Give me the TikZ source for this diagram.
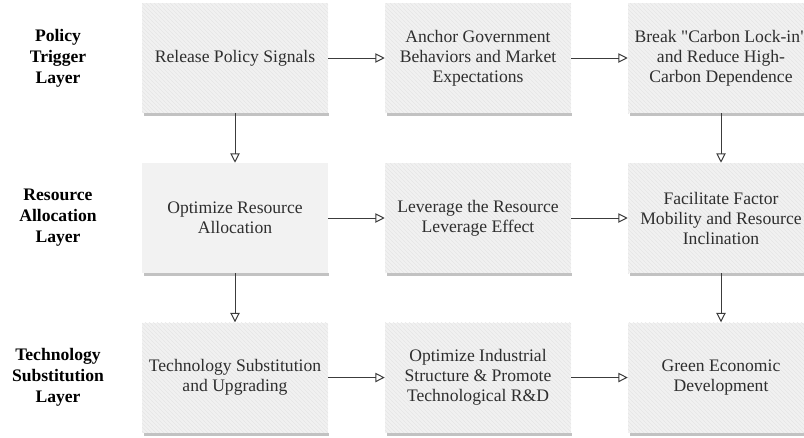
\documentclass[tikz,border=0pt]{standalone}
\usepackage{fontspec}
\setmainfont{Liberation Serif}
\usepackage{tikz}
\usetikzlibrary{arrows.meta}
\usetikzlibrary{patterns}

\definecolor{boxgray}{HTML}{F1F1F1}
\definecolor{plaingray}{HTML}{F2F2F2}
\definecolor{stripegray}{HTML}{E6E6E6}
\definecolor{shadowgray}{HTML}{C2C2C2}
\definecolor{linegray}{HTML}{3C3C3C}
\definecolor{textgray}{HTML}{2E2E2E}

\begin{document}
\begin{tikzpicture}[>={Triangle[open,length=7pt,width=7pt]}, font=\fontsize{13.2pt}{15pt}\selectfont,
 box/.style={minimum width=139.5pt,minimum height=82.5pt,inner sep=0pt,align=center,text=textgray,preaction={fill=boxgray},pattern=north west lines,pattern color=stripegray},
 plainbox/.style={minimum width=139.5pt,minimum height=82.5pt,inner sep=0pt,align=center,text=textgray,fill=plaingray},
 layer/.style={align=center,text=black,font=\fontsize{13.2pt}{15.75pt}\selectfont\bfseries},
 link/.style={->,draw=linegray,line width=0.75pt}, ]

 \useasboundingbox (0pt,0pt) rectangle (603pt,327.75pt);

 % layer titles
 \node[layer] (LP) at (43.5pt,284.25pt) {Policy\\Trigger\\Layer};
 \node[layer] (LR) at (43.5pt,164.25pt) {Resource\\Allocation\\Layer};
 \node[layer] (LT) at (43.5pt,44.6pt) {Technology\\Substitution\\Layer};

 % boxes
 \node[box] (P1) at (176.25pt,284.25pt) {Release Policy Signals};
 \node[box] (P2) at (358.5pt,284.25pt) {Anchor Government\\Behaviors and Market\\Expectations};
 \node[box] (P3) at (540.75pt,284.25pt) {Break \textquotedbl Carbon Lock-in\textquotedbl\\and Reduce High-\\Carbon Dependence};

 \node[plainbox] (R1) at (176.25pt,164.25pt) {Optimize Resource\\Allocation};
 \node[box] (R2) at (358.5pt,164.25pt) {Leverage the Resource\\Leverage Effect};
 \node[box] (R3) at (540.75pt,164.25pt) {Facilitate Factor\\Mobility and Resource\\Inclination};

 \node[box] (T1) at (176.25pt,44.6pt) {Technology Substitution\\and Upgrading};
 \node[box] (T2) at (358.5pt,44.6pt) {Optimize Industrial\\Structure \& Promote\\Technological R\&D};
 \node[box] (T3) at (540.75pt,44.6pt) {Green Economic\\Development};

 % shadow under each box
 \foreach \n in {P1,P2,P3,R1,R2,R3,T1,T2,T3}
  \fill[shadowgray] ([xshift=1.5pt]\n.south west) rectangle ([xshift=0.75pt,yshift=-2.25pt]\n.south east);

 \draw[link] (P1) -- (P2);
 \draw[link] (P2) -- (P3);
 \draw[link] (R1) -- (R2);
 \draw[link] (R2) -- (R3);
 \draw[link] (T1) -- (T2);
 \draw[link] (T2) -- (T3);

 \draw[link] (P1.south) -- (R1.north);
 \draw[link] (P3.south) -- (R3.north);
 \draw[link] (R1.south) -- (T1.north);
 \draw[link] (R3.south) -- (T3.north);

\end{tikzpicture}
\end{document}
